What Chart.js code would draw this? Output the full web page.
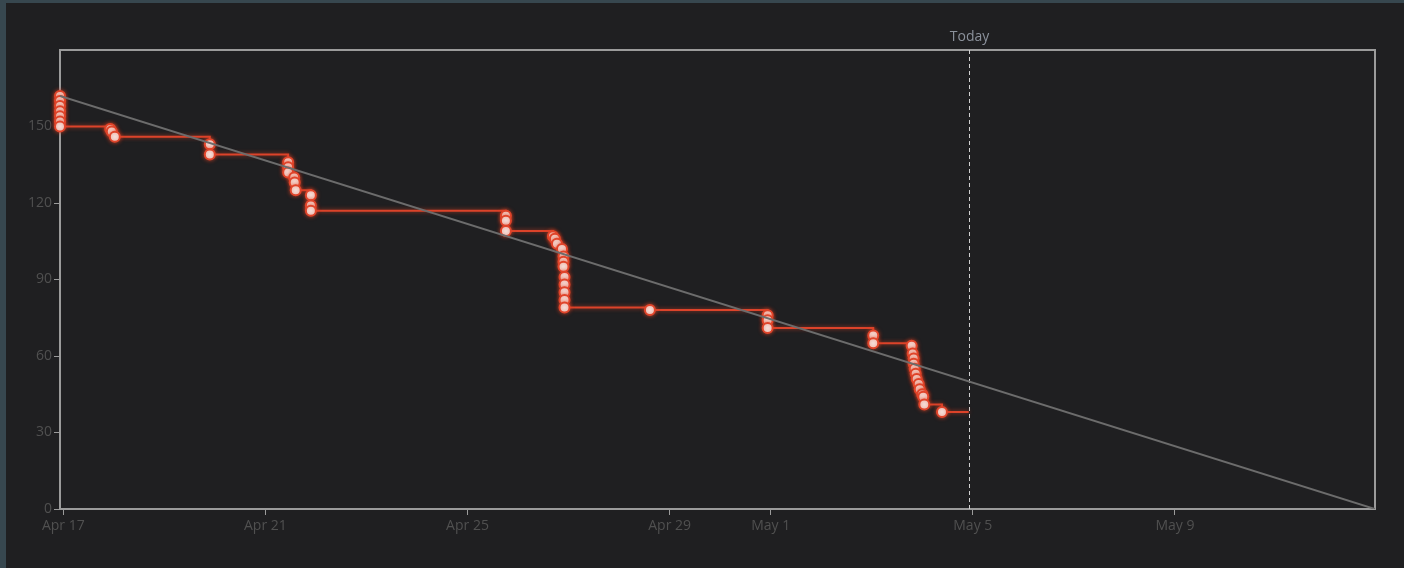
<!DOCTYPE html>
<html>
<head>
<meta charset="utf-8">
<script src="https://cdn.jsdelivr.net/npm/chart.js@4.4.1/dist/chart.umd.min.js"></script>
<style>
  html, body { margin: 0; padding: 0; background: #37474f; width: 1404px; height: 568px; overflow: hidden; }
  #panel { position: absolute; left: 6px; top: 3px; width: 1398px; height: 565px; background: #1f1f21; }
  canvas { display: block; }
</style>
</head>
<body>
<div id="panel"><canvas id="c" width="1398" height="565"></canvas></div>
<script>
// ---- data (x in days since Apr 17 00:00) ----
const burnDays = [
  -0.065, -0.065, -0.065, -0.065, -0.065, -0.065, -0.065,
  0.93, 0.96, 1.02,
  2.90, 2.90,
  4.45, 4.45, 4.45,
  4.57, 4.58, 4.60,
  4.90, 4.90, 4.90,
  8.76, 8.76, 8.76,
  9.69, 9.73, 9.77, 9.87, 9.90, 9.90, 9.90, 9.92, 9.92, 9.92, 9.92, 9.92,
  11.61,
  13.94, 13.94, 13.94,
  16.03, 16.03,
  16.79, 16.81, 16.83, 16.83, 16.85, 16.87, 16.89, 16.93, 16.95, 17.00, 17.02, 17.04,
  17.39,
  17.92
];
const burnValues = [
  162, 160, 158, 156, 154, 152, 150,
  149, 148, 146,
  143, 139,
  136, 134, 132,
  130, 128, 125,
  123, 119, 117,
  115, 113, 109,
  107, 106, 104, 102, 99, 97, 95, 91, 88, 85, 82, 79,
  78,
  76, 74, 71,
  68, 65,
  64, 61, 59, 57, 55, 53, 51, 49, 47, 45, 44, 41,
  38,
  38
];
const idealDays = [-0.065, 25.96];
const idealValues = [162, 0];
const todayDay = 17.92;
const todayLabel = "Today";
const xTickDays = [0, 4, 8, 12, 14, 18, 22];
const xTickLabels = ["Apr 17", "Apr 21", "Apr 25", "Apr 29", "May 1", "May 5", "May 9"];
const yTickValues = [0, 30, 60, 90, 120, 150];

const burnData = burnDays.map((d, i) => ({ x: d, y: burnValues[i] }));
const idealData = idealDays.map((d, i) => ({ x: d, y: idealValues[i] }));
const lastIdx = burnData.length - 1;

const FONT = "'Open Sans', 'Noto Sans', sans-serif";

const boxPlugin = {
  id: 'box',
  beforeDatasetsDraw(chart) {
    const { ctx, chartArea: a } = chart;
    ctx.save();
    ctx.strokeStyle = '#9b9b9b';
    ctx.lineWidth = 2;
    ctx.strokeRect(a.left, a.top, a.right - a.left, a.bottom - a.top);
    // today line
    const x = Math.round(chart.scales.x.getPixelForValue(todayDay)) + 0.5;
    ctx.strokeStyle = '#d0d0d0';
    ctx.lineWidth = 1;
    ctx.setLineDash([4, 3]);
    ctx.beginPath();
    ctx.moveTo(x, a.top);
    ctx.lineTo(x, a.bottom);
    ctx.stroke();
    ctx.setLineDash([]);
    ctx.fillStyle = '#8b919b';
    ctx.font = '14px ' + FONT;
    ctx.textAlign = 'center';
    ctx.textBaseline = 'middle';
    ctx.fillText(todayLabel, x, a.top - 13);
    ctx.restore();
  },
  beforeDatasetDraw(chart, args) {
    if (args.index === 1) {
      const ctx = chart.ctx;
      ctx.save();
      ctx.shadowColor = 'rgba(230,70,40,0.7)';
      ctx.shadowBlur = 4;
    }
  },
  afterDatasetDraw(chart, args) {
    if (args.index === 1) chart.ctx.restore();
  }
};

new Chart(document.getElementById('c'), {
  type: 'line',
  data: {
    datasets: [
      {
        label: 'Ideal',
        data: idealData,
        borderColor: '#6c6c6c',
        borderWidth: 2,
        pointRadius: 0,
        fill: false
      },
      {
        label: 'Remaining',
        data: burnData,
        stepped: true,
        clip: false,
        borderColor: '#dc432a',
        borderWidth: 2,
        pointBackgroundColor: '#f6eeeb',
        pointBorderColor: '#e0452b',
        pointBorderWidth: 2,
        pointRadius: (c) => c.dataIndex === lastIdx ? 0 : 5,
        pointHoverRadius: 5,
        fill: false
      }
    ]
  },
  options: {
    responsive: false,
    animation: false,
    events: [],
    layout: { padding: { left: 0, right: 29, top: 47, bottom: 0 } },
    plugins: { legend: { display: false }, tooltip: { enabled: false } },
    scales: {
      x: {
        type: 'linear',
        min: -0.065,
        max: 25.96,
        afterBuildTicks(s) { s.ticks = xTickDays.map(v => ({ value: v })); },
        afterFit(s) { s.height = 59; },
        ticks: {
          autoSkip: false,
          maxRotation: 0,
          padding: 3,
          color: '#505050',
          font: { family: FONT, size: 14 },
          callback(v) { const i = xTickDays.indexOf(v); return i >= 0 ? xTickLabels[i] : ''; }
        },
        grid: { display: true, drawOnChartArea: false, drawTicks: true, tickLength: 6, color: '#9b9b9b', lineWidth: 1 },
        border: { display: false }
      },
      y: {
        min: 0,
        max: 180,
        afterBuildTicks(s) { s.ticks = yTickValues.map(v => ({ value: v })); },
        afterFit(s) { s.width = 54; },
        ticks: {
          padding: 2,
          color: '#505050',
          font: { family: FONT, size: 14 }
        },
        grid: { display: true, drawOnChartArea: false, drawTicks: true, tickLength: 6, color: '#9b9b9b', lineWidth: 1 },
        border: { display: false }
      }
    }
  },
  plugins: [boxPlugin]
});
</script>
</body>
</html>
